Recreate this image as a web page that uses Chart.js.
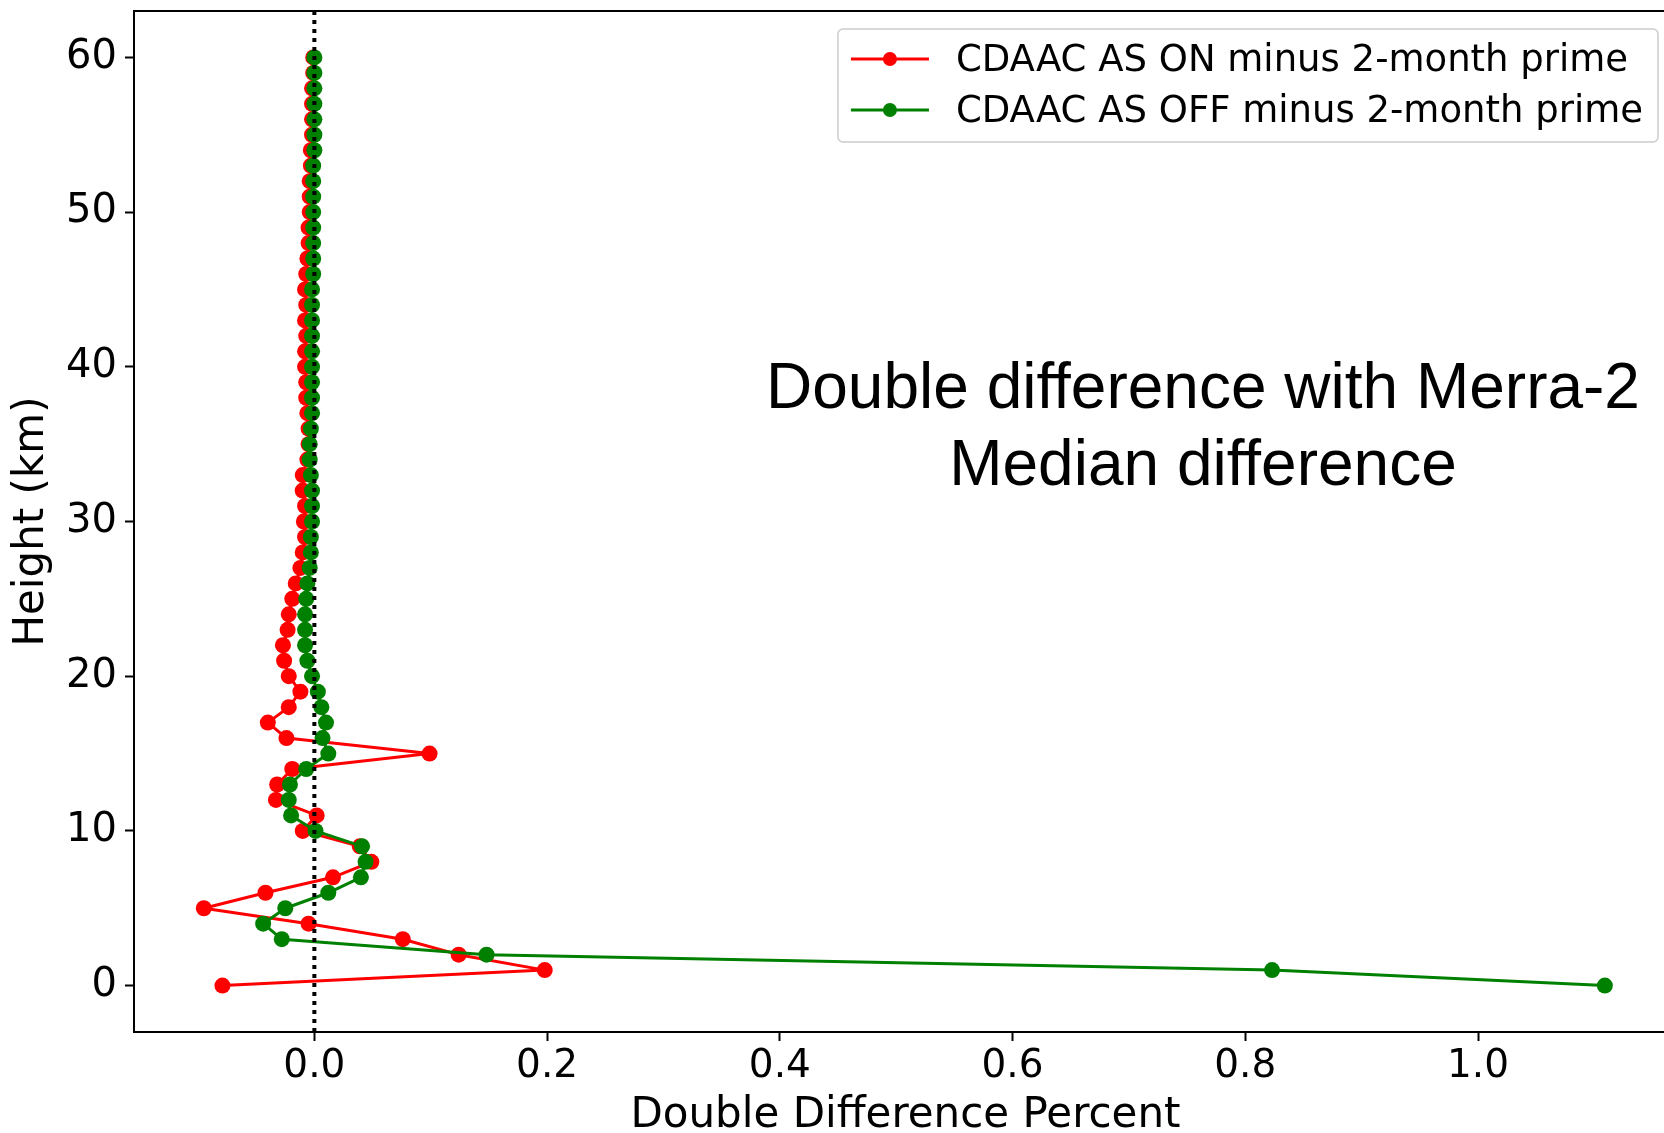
<!doctype html>
<html>
<head>
	<meta charset="utf-8">
	<title>Double Difference with Merra-2</title>
	<script src="https://cdn.jsdelivr.net/npm/chart.js@4.4.0/dist/chart.umd.min.js"></script>
	<style>
		html, body {
			margin: 0;
			padding: 0;
			background: #fff;
			overflow: hidden;
		}
		#wrap {
			position: absolute;
			left: 0;
			top: 0;
			width: 1690px;
			height: 1145px;
		}
	</style>
</head>
<body>
	<div id="wrap"><canvas id="DoubleDiff" width="1690" height="1145"></canvas></div>
	<script>
		// heights in km, one value per km from the surface up to 60 km
		var heights = [0, 1, 2, 3, 4, 5, 6, 7, 8, 9,
			10, 11, 12, 13, 14, 15, 16, 17, 18, 19,
			20, 21, 22, 23, 24, 25, 26, 27, 28, 29,
			30, 31, 32, 33, 34, 35, 36, 37, 38, 39,
			40, 41, 42, 43, 44, 45, 46, 47, 48, 49,
			50, 51, 52, 53, 54, 55, 56, 57, 58, 59, 60];

		var asOnValues = [-0.079, 0.198, 0.124, 0.076, -0.005, -0.095, -0.042, 0.016, 0.049, 0.039,
			-0.010, 0.002, -0.033, -0.032, -0.019, 0.099, -0.024, -0.040, -0.022, -0.012,
			-0.022, -0.026, -0.027, -0.023, -0.022, -0.019, -0.016, -0.012, -0.010, -0.008,
			-0.009, -0.008, -0.010, -0.010, -0.006, -0.005, -0.005, -0.006, -0.007, -0.007,
			-0.008, -0.008, -0.007, -0.008, -0.007, -0.008, -0.007, -0.006, -0.005, -0.005,
			-0.004, -0.004, -0.004, -0.003, -0.003, -0.002, -0.002, -0.002, -0.002, -0.001, -0.001];

		var asOffValues = [1.109, 0.823, 0.148, -0.028, -0.044, -0.025, 0.012, 0.040, 0.044, 0.041,
			0.001, -0.020, -0.022, -0.021, -0.007, 0.012, 0.007, 0.010, 0.006, 0.003,
			-0.002, -0.006, -0.008, -0.008, -0.008, -0.007, -0.006, -0.004, -0.003, -0.003,
			-0.002, -0.002, -0.002, -0.003, -0.004, -0.004, -0.003, -0.002, -0.002, -0.002,
			-0.002, -0.002, -0.002, -0.002, -0.002, -0.002, -0.001, -0.001, -0.001, -0.001,
			-0.001, -0.001, -0.001, -0.001, 0.000, 0.000, 0.000, 0.000, 0.000, 0.000, 0.000];

		var seriesLabels = ["CDAAC AS ON minus 2-month prime", "CDAAC AS OFF minus 2-month prime"];
		var seriesColors = ["#ff0000", "#008000"];

		var xTickValues = [0.0, 0.2, 0.4, 0.6, 0.8, 1.0];
		var yTickValues = [0, 10, 20, 30, 40, 50, 60];

		var annotationLines = ["Double difference with Merra-2", "Median difference"];

		function toPoints(values) {
			return values.map(function (v, i) { return {x: v, y: heights[i]}; });
		}

		// top spine, dotted zero line, text box and matplotlib-like legend
		var extrasPlugin = {
			id: 'extras',
			afterDatasetsDraw: function (chart) {
				var ctx = chart.ctx;
				var ca = chart.chartArea;
				var xs = chart.scales.x;

				ctx.save();
				// top spine
				ctx.strokeStyle = '#000';
				ctx.lineWidth = 2;
				ctx.beginPath();
				ctx.moveTo(ca.left - 1, ca.top);
				ctx.lineTo(ca.right, ca.top);
				ctx.stroke();

				// dotted line at zero
				var x0 = xs.getPixelForValue(0);
				ctx.setLineDash([4, 5]);
				ctx.lineWidth = 4;
				ctx.beginPath();
				ctx.moveTo(x0, ca.top);
				ctx.lineTo(x0, ca.bottom);
				ctx.stroke();
				ctx.setLineDash([]);

				// annotation text
				ctx.fillStyle = '#000';
				ctx.font = '64px "Liberation Sans", Arial, sans-serif';
				ctx.textAlign = 'center';
				ctx.textBaseline = 'alphabetic';
				ctx.fillText(annotationLines[0], 1203, 408);
				ctx.fillText(annotationLines[1], 1203, 485);

				// legend
				ctx.font = '37px "DejaVu Sans"';
				var maxW = 0;
				seriesLabels.forEach(function (t) { maxW = Math.max(maxW, ctx.measureText(t).width); });
				var boxW = 118 + maxW + 15;
				var boxH = 113;
				var boxRight = ca.right - 19;
				var boxLeft = boxRight - boxW;
				var boxTop = ca.top + 18;
				ctx.fillStyle = 'rgba(255,255,255,0.8)';
				ctx.strokeStyle = '#cccccc';
				ctx.lineWidth = 1.5;
				ctx.beginPath();
				ctx.roundRect(boxLeft, boxTop, boxW, boxH, 5);
				ctx.fill();
				ctx.stroke();

				var rows = [boxTop + 30, boxTop + 81];
				seriesLabels.forEach(function (t, i) {
					var y = rows[i];
					ctx.strokeStyle = seriesColors[i];
					ctx.lineWidth = 3;
					ctx.beginPath();
					ctx.moveTo(boxLeft + 13, y);
					ctx.lineTo(boxLeft + 91, y);
					ctx.stroke();
					ctx.fillStyle = seriesColors[i];
					ctx.beginPath();
					ctx.arc(boxLeft + 52, y, 7, 0, Math.PI * 2);
					ctx.fill();
					ctx.fillStyle = '#000';
					ctx.textAlign = 'left';
					ctx.textBaseline = 'middle';
					ctx.fillText(t, boxLeft + 118, y + 2);
				});
				ctx.restore();
			}
		};

		new Chart("DoubleDiff", {
			type: "scatter",
			data: {
				datasets: [
					{
						label: seriesLabels[0],
						data: toPoints(asOnValues),
						showLine: true,
						borderColor: seriesColors[0],
						backgroundColor: seriesColors[0],
						borderWidth: 3,
						borderJoinStyle: 'round',
						pointRadius: 8,
						pointBorderWidth: 0,
						pointHoverRadius: 8,
						order: 2
					},
					{
						label: seriesLabels[1],
						data: toPoints(asOffValues),
						showLine: true,
						borderColor: seriesColors[1],
						backgroundColor: seriesColors[1],
						borderWidth: 3,
						borderJoinStyle: 'round',
						pointRadius: 8,
						pointBorderWidth: 0,
						pointHoverRadius: 8,
						order: 1
					}
				]
			},
			options: {
				responsive: false,
				animation: false,
				devicePixelRatio: 1,
				layout: {
					padding: {top: 11, right: 13, left: 0, bottom: 0}
				},
				plugins: {
					legend: {display: false},
					tooltip: {enabled: false}
				},
				scales: {
					x: {
						type: 'linear',
						min: -0.155,
						max: 1.171,
						afterBuildTicks: function (scale) {
							scale.ticks = xTickValues.map(function (v) { return {value: v}; });
						},
						afterFit: function (scale) {
							scale.height = 113;
							scale.paddingLeft = 0;
							scale.paddingRight = 0;
						},
						ticks: {
							color: '#000',
							padding: 2,
							font: {family: 'DejaVu Sans', size: 39},
							callback: function (v) { return v.toFixed(1); }
						},
						grid: {
							display: true,
							drawOnChartArea: false,
							drawTicks: true,
							tickLength: 9,
							tickWidth: 2,
							color: '#000'
						},
						border: {display: true, color: '#000', width: 2},
						title: {
							display: true,
							text: 'Double Difference Percent',
							color: '#000',
							font: {family: 'DejaVu Sans', size: 42, lineHeight: 1.2},
							padding: {top: 0, bottom: 4}
						}
					},
					y: {
						type: 'linear',
						min: -3,
						max: 63,
						afterBuildTicks: function (scale) {
							scale.ticks = yTickValues.map(function (v) { return {value: v}; });
						},
						afterFit: function (scale) {
							scale.width = 134;
							scale.paddingTop = 0;
							scale.paddingBottom = 0;
						},
						ticks: {
							color: '#000',
							padding: 8,
							font: {family: 'DejaVu Sans', size: 40},
							callback: function (v) { return String(v); }
						},
						grid: {
							display: true,
							drawOnChartArea: false,
							drawTicks: true,
							tickLength: 9,
							tickWidth: 2,
							color: '#000'
						},
						border: {display: true, color: '#000', width: 2},
						title: {
							display: true,
							text: 'Height (km)',
							color: '#000',
							font: {family: 'DejaVu Sans', size: 42, lineHeight: 1.2},
							padding: {top: 7, bottom: 0}
						}
					}
				}
			},
			plugins: [extrasPlugin]
		});
	</script>
</body>
</html>
